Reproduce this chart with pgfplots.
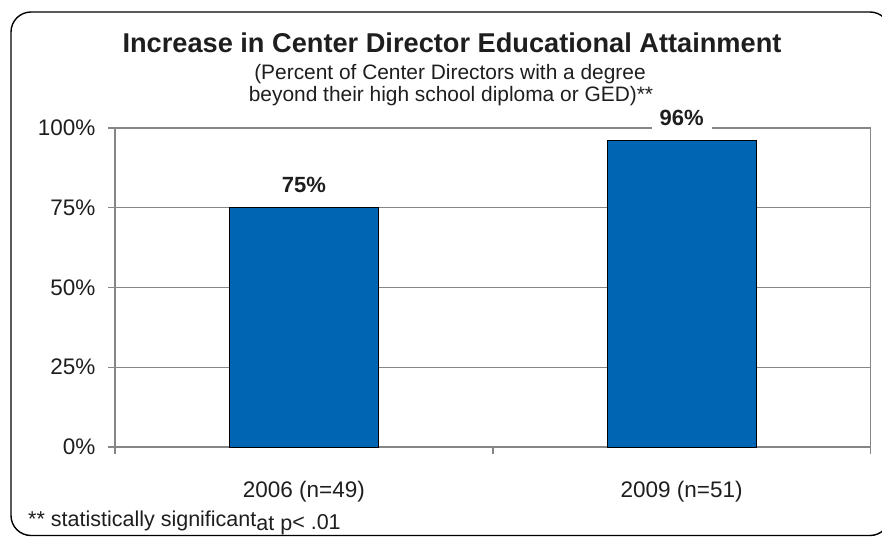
\documentclass[border=0pt]{standalone}
\usepackage{fontspec}
\setmainfont{Liberation Sans}
\usepackage{pgfplots}
\pgfplotsset{compat=1.18}
\definecolor{barblue}{RGB}{0,102,179}
\definecolor{axgray}{RGB}{134,134,134}
\definecolor{txt}{RGB}{30,30,30}
\begin{document}
\begin{tikzpicture}[x=1pt,y=1pt]
\path[use as bounding box] (0,0) rectangle (882,538);
\begin{scope}
\clip (0,0) rectangle (882,538);
\draw[line width=1.4pt, rounded corners=20pt] (11,2.5) rectangle (890,526);
\end{scope}
\node[anchor=base, text=txt, font=\fontsize{27.2}{30}\selectfont\bfseries] at (452,485) {Increase in Center Director Educational Attainment};
\node[anchor=base, text=txt, font=\fontsize{20.9}{24}\selectfont] at (450,458) {(Percent of Center Directors with a degree};
\node[anchor=base, text=txt, font=\fontsize{20.9}{24}\selectfont] at (451,436) {beyond their high school diploma or GED)**};
\node[anchor=base west, text=txt, font=\fontsize{21.5}{24}\selectfont, inner sep=0pt] at (28,12) {** statistically significant\raisebox{-4.5pt}{at p}\raisebox{-3pt}{< .01}};
\begin{axis}[
  at={(115pt,91pt)}, anchor=south west,
  scale only axis, width=755.5pt, height=319pt,
  xmin=-0.5, xmax=1.5, ymin=0, ymax=100,
  ybar, bar width=149pt,
  axis line style={axgray, line width=1.5pt},
  ytick={0,25,50,75,100},
  yticklabels={0\%,25\%,50\%,75\%,100\%},
  ymajorgrids, grid style={axgray, line width=1.5pt},
  xtick={-0.5,0.5,1.5}, xticklabels={},
  extra x ticks={0,1},
  extra x tick labels={2006 (n=49),2009 (n=51)},
  extra x tick style={major tick length=0pt, xticklabel style={yshift=-31pt}},
  tick align=outside, major tick length=7pt,
  tick style={axgray, line width=1.5pt},
  xtick pos=bottom, ytick pos=left,
  ticklabel style={text=txt, font=\fontsize{22.5}{26}\selectfont},
  yticklabel style={xshift=-9pt},
  point meta=explicit symbolic,
  nodes near coords,
  every node near coord/.append style={anchor=base, yshift=15pt, fill=white, inner xsep=8pt, inner ysep=3pt, text=txt, font=\fontsize{22}{26}\selectfont\bfseries},
  clip=false,
]
\addplot[fill=barblue, draw=black, line width=1pt] coordinates {(0,75) [75\%] (1,96) [96\%]};
\end{axis}
\end{tikzpicture}
\end{document}
